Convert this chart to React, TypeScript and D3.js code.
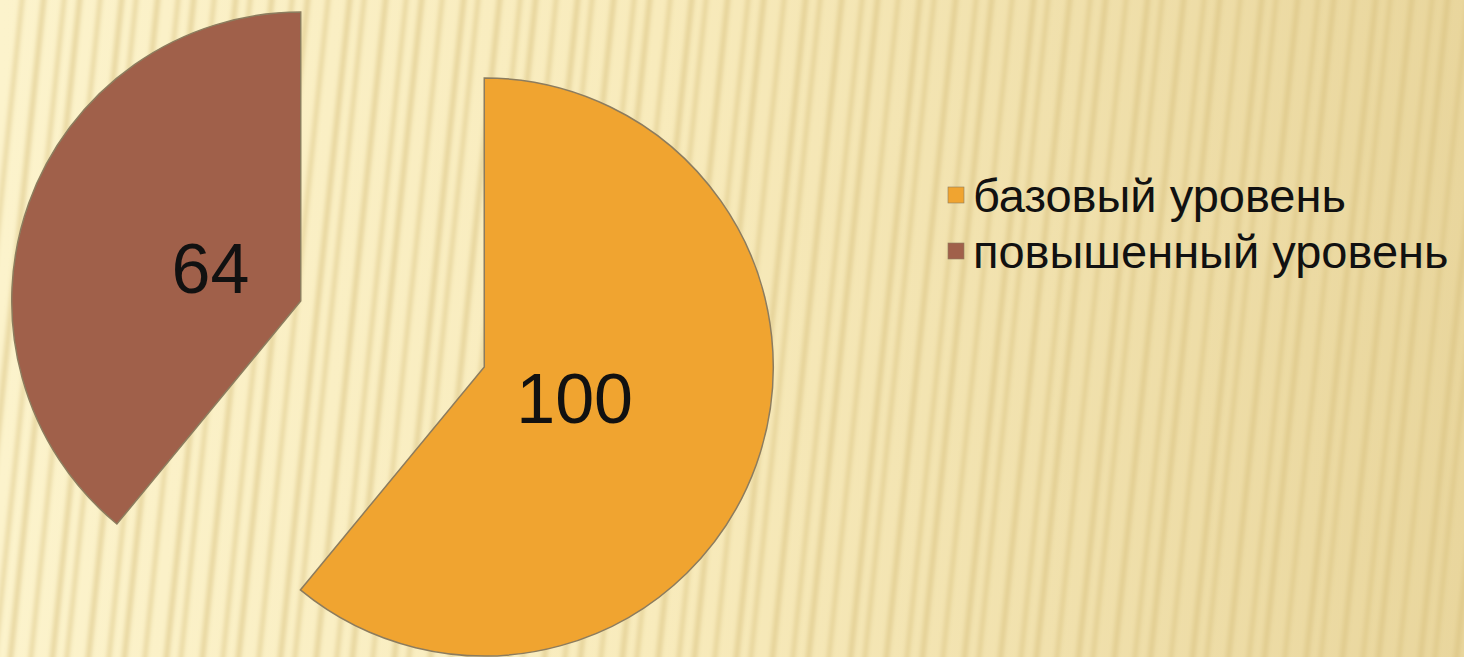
import React from "react";
import * as d3 from "d3";

const categories: string[] = ["базовый уровень", "повышенный уровень"];
const values: number[] = [100, 64];
const colors: string[] = ["#F0A430", "#A0604A"];

const W = 1464;
const H = 657;

export default function App() {
  const cx = 392.5;
  const cy = 334;
  const r = 289;
  const explode = 97.5;

  const data = categories.map((c, i) => ({ name: c, value: values[i], color: colors[i] }));
  const pie = d3
    .pie<{ name: string; value: number; color: string }>()
    .sort(null)
    .value((d) => d.value)
    .startAngle(0)
    .endAngle(2 * Math.PI);
  const arcs = pie(data);
  const arc = d3.arc<d3.PieArcDatum<any>>().innerRadius(0).outerRadius(r);
  const labelArc = d3.arc<d3.PieArcDatum<any>>().innerRadius(192).outerRadius(192);

  const stripes = d3.range(-20, W + 60, 19);

  return (
    <svg width={W} height={H} style={{ position: "absolute", left: 0, top: 0 }} xmlns="http://www.w3.org/2000/svg">
      <defs>
        <linearGradient id="bg" x1="0" y1="0" x2="1" y2="0">
          <stop offset="0" stopColor="#FCF3CC" />
          <stop offset="0.45" stopColor="#F8EBBC" />
          <stop offset="1" stopColor="#E9D69D" />
        </linearGradient>
        <linearGradient id="stripeFade" x1="0" y1="0" x2="1" y2="0">
          <stop offset="0" stopColor="#D9C27E" stopOpacity="0.55" />
          <stop offset="1" stopColor="#D4BC78" stopOpacity="0.6" />
        </linearGradient>
        <filter id="blur" x="-10%" y="-10%" width="120%" height="120%">
          <feGaussianBlur stdDeviation="2.2" />
        </filter>
      </defs>
      <rect x={0} y={0} width={W} height={H} fill="url(#bg)" />
      <g filter="url(#blur)" transform="skewX(-6)">
        {stripes.map((x, i) => (
          <rect key={i} x={x + 40 + (i % 3) * 2} y={-10} width={4 + (i % 2)} height={H + 20} fill="url(#stripeFade)" />
        ))}
      </g>
      {arcs.map((a, i) => {
        const mid = (a.startAngle + a.endAngle) / 2;
        const dx = Math.sin(mid) * explode;
        const dy = -Math.cos(mid) * explode;
        const [lx, ly] = labelArc.centroid(a);
        return (
          <g key={i} transform={`translate(${cx + dx},${cy + dy})`}>
            <path d={arc(a) || ""} fill={a.data.color} stroke="#8C7C5E" strokeWidth={1.5} />
            <text
              x={lx / 2}
              y={ly / 2}
              textAnchor="middle"
              dominantBaseline="central"
              fontFamily="Liberation Sans, Arial, sans-serif"
              fontSize={70}
              fill="#111"
            >
              {a.data.value}
            </text>
          </g>
        );
      })}
      <g fontFamily="Liberation Sans, Arial, sans-serif" fontSize={47} fill="#111">
        {categories.map((c, i) => (
          <g key={c} transform={`translate(948,${212 + i * 56})`}>
            <rect x={0} y={-25} width={16} height={16} fill={colors[i]} stroke="#8C7C5E" strokeWidth={0.6} />
            <text x={25} y={0}>
              {c}
            </text>
          </g>
        ))}
      </g>
    </svg>
  );
}
